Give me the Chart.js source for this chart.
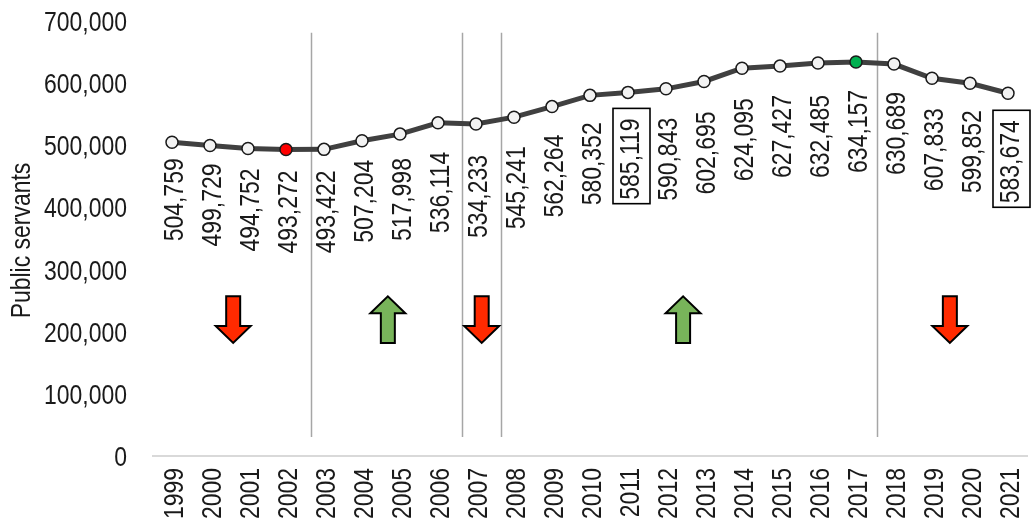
<!DOCTYPE html>
<html>
<head>
<meta charset="utf-8">
<script src="https://cdn.jsdelivr.net/npm/chart.js@4/dist/chart.umd.min.js"></script>
<style>
  html, body { margin: 0; padding: 0; background: #ffffff; }
  #wrap { width: 1031px; height: 522px; position: relative; }
</style>
</head>
<body>
<div id="wrap"><canvas id="chart" width="1031" height="522"></canvas></div>
<script>
// Public servants per year
const years = ['1999','2000','2001','2002','2003','2004','2005','2006','2007','2008','2009','2010',
               '2011','2012','2013','2014','2015','2016','2017','2018','2019','2020','2021'];
const servants = [504759, 499729, 494752, 493272, 493422, 507204, 517998, 536114, 534233, 545241,
                  562264, 580352, 585119, 590843, 602695, 624095, 627427, 632485, 634157, 630689,
                  607833, 599852, 583674];
const yTickValues = [0, 100000, 200000, 300000, 400000, 500000, 600000, 700000];
const yTitle = 'Public servants';

// Highlighted years
const lowYear = '2002';
const peakYear = '2017';
const boxedYears = ['2011', '2021'];

// Period separators, as positions along the year axis (category index units)
const periodBreaks = [3.65, 7.62, 8.66, 18.54];
// Trend arrows per period: position along the year axis and direction
const arrowAt  = [1.61, 5.68, 8.15, 13.45, 20.47];
const arrowDir = ['down', 'up', 'down', 'up', 'down'];

// Narrow sans: Liberation Sans squeezed horizontally
const FONT = '28px "Liberation Sans", Arial, sans-serif';
const SQUEEZE = 0.82;
const CAP_HALF = 10;
const TEXT = '#1a1a1a';

const fmt = v => v.toLocaleString('en-US');

const pointFill = years.map(y => y === lowYear ? '#ff0000' : (y === peakYear ? '#00b050' : '#f2f2f2'));

// Draw text at (x, y); rotated text reads bottom-to-top
function narrowText(ctx, txt, x, y, rotated, align) {
  ctx.save();
  ctx.translate(x, y);
  if (rotated) ctx.rotate(-Math.PI / 2);
  ctx.scale(SQUEEZE, 1);
  ctx.textAlign = align;
  ctx.textBaseline = 'alphabetic';
  ctx.fillText(txt, 0, 0);
  ctx.restore();
}

// Separators behind the line
const separatorPlugin = {
  id: 'separators',
  beforeDatasetsDraw(chart, args, opts) {
    const { ctx } = chart;
    const xs = chart.scales.x, ys = chart.scales.y;
    const top = ys.getPixelForValue(opts.span[1]);
    const bottom = ys.getPixelForValue(opts.span[0]);
    ctx.save();
    ctx.strokeStyle = opts.color;
    ctx.lineWidth = opts.width;
    periodBreaks.forEach(b => {
      const x = Math.round(xs.getPixelForValue(b)) + 0.5;
      ctx.beginPath();
      ctx.moveTo(x, top);
      ctx.lineTo(x, bottom);
      ctx.stroke();
    });
    ctx.restore();
  }
};

// Up / down arrows marking each period's trend
const arrowPlugin = {
  id: 'trendArrows',
  afterDatasetsDraw(chart, args, opts) {
    const { ctx } = chart;
    const xs = chart.scales.x, ys = chart.scales.y;
    const yTop = ys.getPixelForValue(opts.span[1]);
    const yBot = ys.getPixelForValue(opts.span[0]);
    const hw = opts.headHalfWidth, sw = opts.shaftHalfWidth, hh = opts.headHeight;
    ctx.save();
    ctx.lineWidth = 2;
    ctx.strokeStyle = '#000000';
    ctx.lineJoin = 'miter';
    arrowAt.forEach((at, i) => {
      const cx = xs.getPixelForValue(at);
      const down = arrowDir[i] === 'down';
      const tail = down ? yTop : yBot;
      const tip = down ? yBot : yTop;
      const hb = down ? tip - hh : tip + hh;
      ctx.beginPath();
      ctx.moveTo(cx - sw, tail);
      ctx.lineTo(cx + sw, tail);
      ctx.lineTo(cx + sw, hb);
      ctx.lineTo(cx + hw, hb);
      ctx.lineTo(cx, tip);
      ctx.lineTo(cx - hw, hb);
      ctx.lineTo(cx - sw, hb);
      ctx.closePath();
      ctx.fillStyle = down ? opts.downColor : opts.upColor;
      ctx.fill();
      ctx.stroke();
    });
    ctx.restore();
  }
};

// Axis texts: value ticks, year ticks and the axis title
const axisTextPlugin = {
  id: 'axisText',
  afterDraw(chart, args, opts) {
    const { ctx } = chart;
    const xs = chart.scales.x, ys = chart.scales.y;
    ctx.save();
    ctx.font = FONT;
    ctx.fillStyle = TEXT;
    yTickValues.forEach(v => {
      narrowText(ctx, fmt(v), opts.yTickRight, ys.getPixelForValue(v) + CAP_HALF, false, 'right');
    });
    years.forEach((y, i) => {
      narrowText(ctx, y, xs.getPixelForValue(i) + 1 + CAP_HALF, xs.top + opts.xTickGap, true, 'right');
    });
    narrowText(ctx, yTitle, opts.titleX + CAP_HALF, (ys.top + ys.bottom) / 2 + 2, true, 'center');
    ctx.restore();
  }
};

// Vertical value labels under each point
const valueLabelPlugin = {
  id: 'valueLabels',
  afterDatasetsDraw(chart, args, opts) {
    const { ctx } = chart;
    const meta = chart.getDatasetMeta(0);
    const ds = chart.data.datasets[0];
    ctx.save();
    ctx.font = FONT;
    ctx.fillStyle = TEXT;
    meta.data.forEach((pt, i) => {
      const txt = fmt(ds.data[i]);
      const bx = pt.x + 1 + CAP_HALF;
      const by = pt.y + opts.gaps[i];
      narrowText(ctx, txt, bx, by, true, 'right');
      if (boxedYears.includes(chart.data.labels[i])) {
        const w = ctx.measureText(txt).width * SQUEEZE;
        ctx.save();
        ctx.lineWidth = 1.6;
        ctx.strokeStyle = '#000000';
        ctx.strokeRect(bx - 26, by - 10, 37, w + 14);
        ctx.restore();
      }
    });
    ctx.restore();
  }
};

new Chart(document.getElementById('chart'), {
  type: 'line',
  data: {
    labels: years,
    datasets: [{
      data: servants,
      borderColor: '#404040',
      borderWidth: 5,
      tension: 0,
      pointRadius: 6,
      pointHoverRadius: 6,
      pointBackgroundColor: pointFill,
      pointBorderColor: '#1a1a1a',
      pointBorderWidth: 1.5,
      fill: false,
      clip: false
    }]
  },
  options: {
    responsive: false,
    devicePixelRatio: 1,
    animation: false,
    events: [],
    layout: { autoPadding: false, padding: { top: 21, left: 0, right: 4, bottom: 0 } },
    plugins: {
      legend: { display: false },
      tooltip: { enabled: false },
      separators: { span: [30500, 681000], color: '#a6a6a6', width: 1.5 },
      trendArrows: { span: [182000, 257000], headHalfWidth: 17.5, shaftHalfWidth: 7, headHeight: 17,
                     downColor: '#ff2a00', upColor: '#78b45a' },
      axisText: { yTickRight: 127, xTickGap: 12, titleX: 20 },
      valueLabels: {
        gaps: [16, 18, 20, 21, 21, 19, 24, 29, 31, 29, 28, 27, 26, 29, 30, 30, 29, 32, 28, 28, 30, 27, 27]
      }
    },
    scales: {
      x: {
        type: 'category',
        offset: true,
        grid: { display: false, drawTicks: false },
        border: { display: true, color: '#d9d9d9', width: 2 },
        ticks: { display: false, autoSkip: false },
        afterFit(scale) { scale.height = 66; scale.paddingLeft = 0; scale.paddingRight = 0; }
      },
      y: {
        min: 0, max: 700000,
        afterBuildTicks(scale) { scale.ticks = yTickValues.map(v => ({ value: v })); },
        grid: { display: false, drawTicks: false },
        border: { display: false },
        ticks: { display: false },
        title: { display: false },
        afterFit(scale) { scale.width = 153; scale.paddingTop = 0; scale.paddingBottom = 0; }
      }
    }
  },
  plugins: [separatorPlugin, arrowPlugin, valueLabelPlugin, axisTextPlugin]
});
</script>
</body>
</html>
